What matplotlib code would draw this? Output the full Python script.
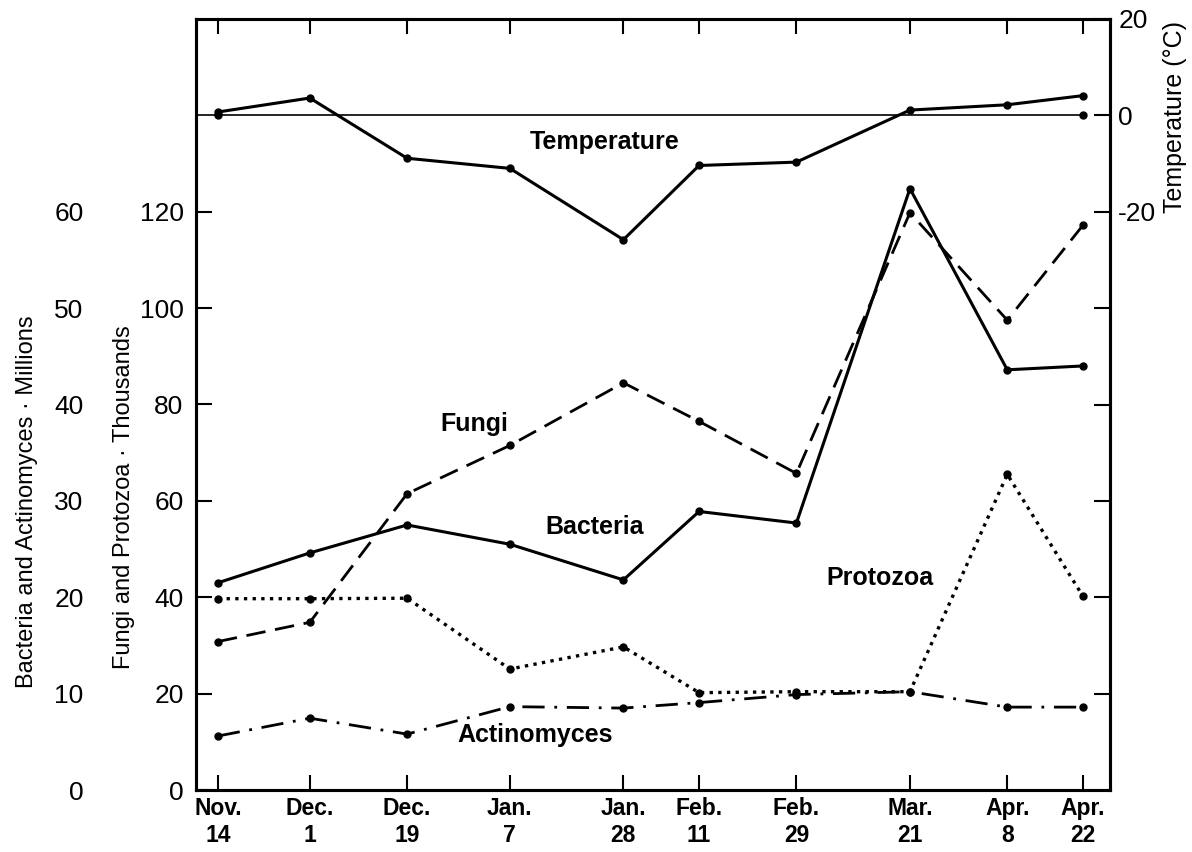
import matplotlib
matplotlib.use('Agg')
import matplotlib.pyplot as plt
from matplotlib import font_manager

# days after Nov. 14 (leap year, so Feb. 29 exists)
dates = ['Nov.\n14', 'Dec.\n1', 'Dec.\n19', 'Jan.\n7', 'Jan.\n28',
         'Feb.\n11', 'Feb.\n29', 'Mar.\n21', 'Apr.\n8', 'Apr.\n22']
days = [0, 17, 35, 54, 75, 89, 107, 128, 146, 160]

temperature = [0.7, 3.6, -8.9, -11.0, -25.8, -10.4, -9.7, 1.1, 2.2, 4.1]
bacteria = [21.5, 24.6, 27.5, 25.5, 21.8, 28.9, 27.7, 62.4, 43.6, 44.0]
actinomyces = [5.6, 7.45, 5.8, 8.65, 8.5, 9.07, 9.9, 10.2, 8.6, 8.6]
fungi = [30.8, 34.8, 61.5, 71.5, 84.5, 76.5, 65.7, 119.8, 97.5, 117.2]
protozoa = [39.7, 39.7, 39.8, 25.1, 29.7, 20.2, 20.4, 20.4, 65.5, 40.2]

names = {f.name for f in font_manager.fontManager.ttflist}
narrow = 'Liberation Sans Narrow' in names
label_font = 'Liberation Sans Narrow' if narrow else 'Liberation Sans'
label_size = 20.5 if narrow else 17

plt.rcParams['font.family'] = ['Liberation Sans', 'DejaVu Sans']

fig = plt.figure(figsize=(11.92, 8.52), dpi=100)
ax = fig.add_axes([196 / 1192, 62 / 852, 914 / 1192, 771 / 852])
ax_t = ax.twinx()
ax_b = ax.twinx()

xlim = (-4.05, 165)
for a in (ax, ax_t, ax_b):
    a.set_xlim(*xlim)
ax.set_ylim(0, 160)
ax_t.set_ylim(-140, 20)
ax_b.set_ylim(0, 80)

mk = dict(marker='o', markersize=5, color='black')

# Fungi and Protozoa (thousands)
ax.plot(days, fungi, lw=2, linestyle=(0, (7, 3.5)), **mk)
ax.plot(days, protozoa, lw=2.4, linestyle=(0, (1, 1.6)), **mk)

# Bacteria and Actinomyces (millions)
ax_b.plot(days, bacteria, lw=2.2, **mk)
ax_b.plot(days, actinomyces, lw=2, linestyle=(0, (8, 3.5, 1, 3.5)), **mk)

# Temperature
ax_t.plot([xlim[0], days[-1]], [0, 0], lw=1.2, color='black')
ax_t.plot([days[0], days[-1]], [0, 0], linestyle='none', **mk)
ax_t.plot(days, temperature, lw=2.2, **mk)

# axes styling
for a in (ax, ax_t, ax_b):
    for s in a.spines.values():
        s.set_linewidth(2.2)
ax_b.spines['left'].set_position(('outward', 81))
for s in ax_b.spines.values():
    s.set_visible(False)

ax.set_xticks(days)
ax.set_xticklabels(dates, fontsize=16.5, fontweight='bold')
for lab in ax.get_xticklabels():
    lab.set_linespacing(1.25)
ax.tick_params(axis='x', direction='in', top=True, length=11, width=1.5, pad=5)

ax.set_yticks([0, 20, 40, 60, 80, 100, 120])
ax.tick_params(axis='y', direction='in', length=11.5, width=1.5, labelsize=19, pad=9)

ax_t.set_yticks([-120, -100, -80, -60, -40, -20, 0, 20])
ax_t.set_yticklabels(['', '', '', '', '', '-20', '0', '20'])
ax_t.tick_params(axis='y', direction='in', length=11.5, width=1.5, labelsize=19, pad=6)

ax_b.yaxis.tick_left()
ax_b.set_yticks([0, 10, 20, 30, 40, 50, 60])
ax_b.tick_params(axis='y', length=0, labelsize=19, pad=0)

ax.set_ylabel('Fungi and Protozoa · Thousands', fontfamily=label_font, fontsize=label_size)
ax.yaxis.set_label_coords(-0.067, 0.38)
ax_b.yaxis.set_label_position('left')
ax_b.set_ylabel('Bacteria and Actinomyces · Millions', fontfamily=label_font, fontsize=label_size)
ax_b.yaxis.set_label_coords(-0.173, 0.374)
ax_t.set_ylabel('Temperature (°C)', fontfamily=label_font, fontsize=label_size + 1)
ax_t.yaxis.set_label_coords(1.058, 0.873)

# series labels
tk = dict(fontsize=18, fontweight='bold', ha='center', va='center')
ax.text(71.6, 134.5, 'Temperature', **tk)
ax.text(47.5, 76, 'Fungi', **tk)
ax.text(69.7, 54.5, 'Bacteria', **tk)
ax.text(122.5, 44, 'Protozoa', **tk)
ax.text(58.6, 11.4, 'Actinomyces', **tk)

fig.savefig('out.png', dpi=100)
